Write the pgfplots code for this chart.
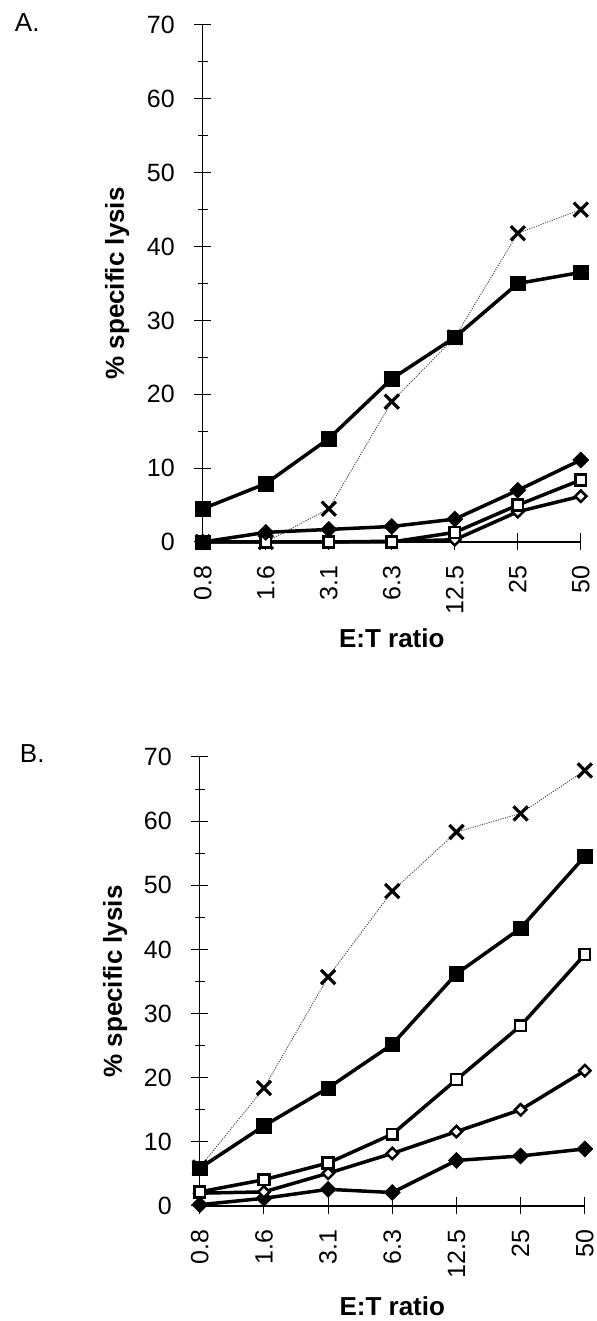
\documentclass[border=0pt]{standalone}
\usepackage{pgfplots}
\pgfplotsset{compat=1.18}
\usepackage{fontspec}
\setmainfont{Liberation Sans}
\begin{document}
\pgfplotsset{
  lysis/.style={
    scale only axis,
    xmin=0, xmax=6, ymin=0, ymax=70,
    axis x line=bottom, axis y line=left,
    axis line style={-, line width=1.2pt, black},
    xtick={0,1,2,3,4,5,6},
    xticklabels={0.8,1.6,3.1,6.3,12.5,25,50},
    ytick={0,10,20,30,40,50,60,70},
    minor y tick num=1,
    tick align=center,
    major tick length=17pt,
    minor tick length=10pt,
    every tick/.style={black, line width=1pt},
    /pgf/number format/assume math mode=true,
    tick label style={font=\fontsize{25}{28}\selectfont},
    yticklabel style={xshift=-16pt},
    xticklabel style={yshift=-12pt, rotate=90, anchor=east},
    label style={font=\fontsize{26}{30}\selectfont\bfseries},
    clip=false,
  },
  sx/.style={gray!60!black, line width=0.9pt, dash pattern=on 1.2pt off 1.2pt, mark=x, mark size=10pt, mark options={solid, black, line width=3.2pt}},
  sfs/.style={black, line width=3.5pt, mark=square*, mark size=7.2pt, mark options={solid, fill=black, line width=0.5pt}},
  sos/.style={black, line width=3.5pt, mark=square*, mark size=5.4pt, mark options={solid, fill=white, line width=2.5pt}},
  sfd/.style={black, line width=3.5pt, mark=square*, mark size=5.7pt, mark options={solid, fill=black, rotate=45, line width=0.5pt}},
  sod/.style={black, line width=3.5pt, mark=square*, mark size=4pt, mark options={solid, fill=white, rotate=45, line width=2.5pt}},
}
\begin{tikzpicture}[x=1pt,y=1pt]
\useasboundingbox (0,0) rectangle (594,1321);
\node[anchor=base west, font=\fontsize{26}{30}\selectfont, inner sep=0pt] at (12,1289) {A.};
\node[anchor=base west, font=\fontsize{26}{30}\selectfont, inner sep=0pt] at (17,558) {B.};
\begin{axis}[lysis, at={(200pt,779pt)}, anchor=south west, width=378pt, height=517pt,
  xlabel={E:T ratio}, ylabel={\% specific lysis},
  xlabel style={at={([yshift=-83pt]axis description cs:0.5,0)}, anchor=north},
  ylabel style={at={([xshift=-70pt]axis description cs:0,0.5)}, anchor=south, rotate=0},
]
\addplot[sx] coordinates {(0,0) (1,0) (2,4.5) (3,19.0) (4,27.7) (5,41.8) (6,45.0)};
\addplot[sod] coordinates {(0,0) (1,0) (2,0) (3,0.1) (4,0.3) (5,4.1) (6,6.2)};
\addplot[sos] coordinates {(0,0) (1,0) (2,0) (3,0) (4,1.3) (5,5.0) (6,8.4)};
\addplot[sfd] coordinates {(0,0) (1,1.3) (2,1.7) (3,2.1) (4,3.1) (5,7.0) (6,11.1)};
\addplot[sfs] coordinates {(0,4.5) (1,7.9) (2,14.0) (3,22.1) (4,27.7) (5,35.0) (6,36.5)};
\addplot[sfs] coordinates {(0,0)};
\end{axis}
\begin{axis}[lysis, at={(197pt,115pt)}, anchor=south west, width=385pt, height=449pt,
  xlabel={E:T ratio}, ylabel={\% specific lysis},
  xlabel style={at={([yshift=-87pt]axis description cs:0.5,0)}, anchor=north},
  ylabel style={at={([xshift=-69pt]axis description cs:0,0.5)}, anchor=south, rotate=0},
]
\addplot[sx] coordinates {(0,6.0) (1,18.4) (2,35.7) (3,49.1) (4,58.3) (5,61.2) (6,67.9)};
\addplot[sfd] coordinates {(0,0.2) (1,1.2) (2,2.6) (3,2.1) (4,7.1) (5,7.8) (6,8.9)};
\addplot[sod] coordinates {(0,2.0) (1,2.2) (2,5.1) (3,8.2) (4,11.6) (5,15.0) (6,21.1)};
\addplot[sos] coordinates {(0,2.2) (1,4.1) (2,6.7) (3,11.2) (4,19.7) (5,28.1) (6,39.2)};
\addplot[sfs] coordinates {(0,5.9) (1,12.5) (2,18.4) (3,25.2) (4,36.2) (5,43.3) (6,54.5)};
\end{axis}
\end{tikzpicture}
\end{document}
